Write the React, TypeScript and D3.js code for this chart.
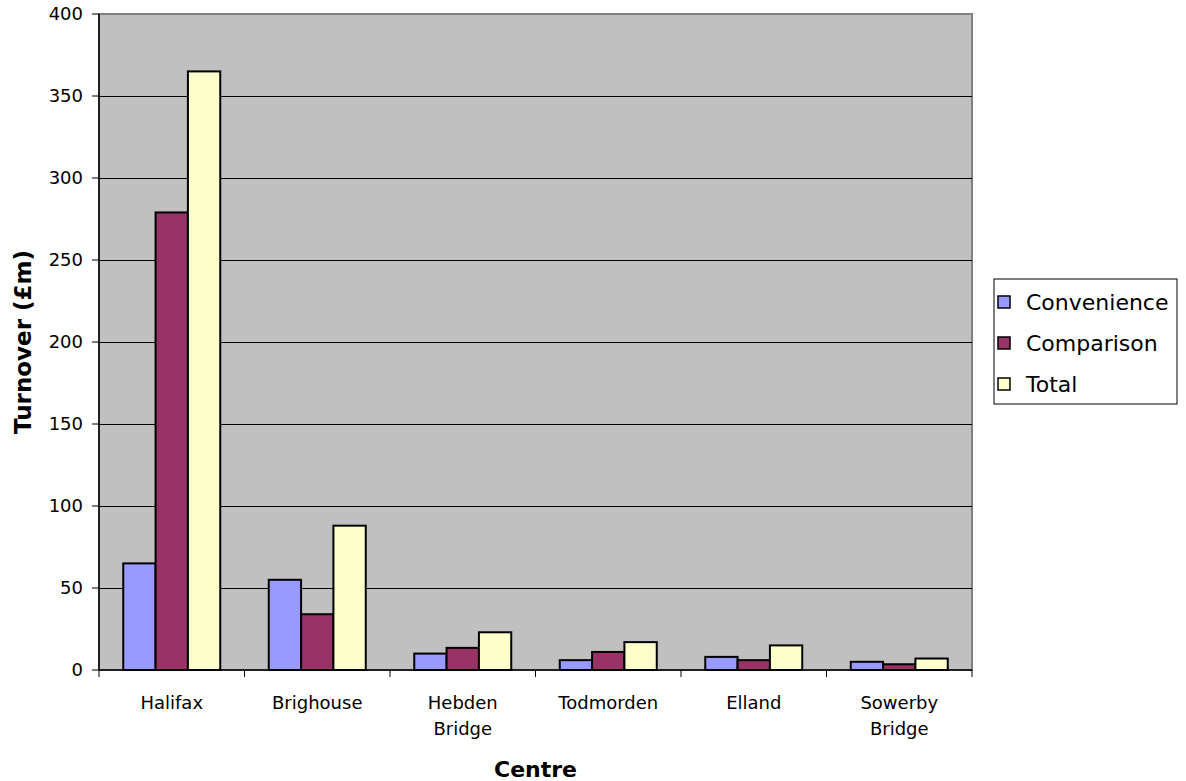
import React from "react";
import * as d3 from "d3";

const categories: string[][] = [
  ["Halifax"],
  ["Brighouse"],
  ["Hebden", "Bridge"],
  ["Todmorden"],
  ["Elland"],
  ["Sowerby", "Bridge"],
];
const seriesNames = ["Convenience", "Comparison", "Total"];
const convenience = [65, 55, 10, 6, 8, 5];
const comparison = [279, 34, 13.5, 11, 6, 3.5];
const total = [365, 88, 23, 17, 15, 7];
const yTicks = [0, 50, 100, 150, 200, 250, 300, 350, 400];
const colors = ["#9999FF", "#993366", "#FFFFCC"];

const W = 1186;
const H = 781;
const plot = { left: 99, right: 972, top: 14, bottom: 670 };
const FONT = "'DejaVu Sans', Verdana, Tahoma, sans-serif";

export default function App() {
  const series = [convenience, comparison, total];
  const catKeys = categories.map((c) => c.join(" "));
  const x0 = d3.scaleBand<string>().domain(catKeys).range([plot.left, plot.right]).padding(0);
  const x1 = d3
    .scaleBand<string>()
    .domain(seriesNames)
    .range([0, x0.bandwidth()])
    .paddingInner(0)
    .paddingOuter(0.75);
  const y = d3.scaleLinear().domain([0, 400]).range([plot.bottom, plot.top]);

  const legendRows = [302, 343, 384];

  return (
    <svg
      width={W}
      height={H}
      style={{ position: "absolute", left: 0, top: 0, background: "#fff" }}
      fontFamily={FONT}
    >
      {/* plot background */}
      <rect
        x={plot.left}
        y={plot.top}
        width={plot.right - plot.left}
        height={plot.bottom - plot.top}
        fill="#C0C0C0"
        stroke="#808080"
        strokeWidth={2}
      />
      {/* gridlines */}
      {yTicks.slice(1, -1).map((t) => (
        <line
          key={"g" + t}
          x1={plot.left}
          x2={plot.right}
          y1={Math.round(y(t)) + 0.5}
          y2={Math.round(y(t)) + 0.5}
          stroke="#000"
          strokeWidth={1}
          shapeRendering="crispEdges"
        />
      ))}
      {/* bars */}
      {catKeys.map((c, i) => (
        <g key={c} transform={`translate(${x0(c)},0)`}>
          {series.map((s, j) => (
            <rect
              key={j}
              x={x1(seriesNames[j])}
              y={y(s[i])}
              width={x1.bandwidth()}
              height={y(0) - y(s[i])}
              fill={colors[j]}
              stroke="#000"
              strokeWidth={2}
            />
          ))}
        </g>
      ))}
      {/* y axis */}
      <line x1={plot.left} x2={plot.left} y1={plot.top} y2={plot.bottom} stroke="#000" strokeWidth={1.5} />
      {yTicks.map((t) => (
        <g key={"yt" + t}>
          <line x1={plot.left - 7} x2={plot.left} y1={y(t)} y2={y(t)} stroke="#000" strokeWidth={1} />
          <text
            x={83}
            y={y(t)}
            dy="0.36em"
            textAnchor="end"
            fontSize={18}
            fill="#000"
          >
            {t}
          </text>
        </g>
      ))}
      {/* x axis */}
      <line x1={plot.left} x2={plot.right} y1={plot.bottom} y2={plot.bottom} stroke="#000" strokeWidth={1.5} />
      {[...catKeys.map((c) => x0(c) as number), plot.right].map((xv, i) => (
        <line key={"xt" + i} x1={xv} x2={xv} y1={plot.bottom} y2={plot.bottom + 7} stroke="#000" strokeWidth={1} />
      ))}
      {categories.map((lines, i) => (
        <text
          key={"xl" + i}
          x={(x0(catKeys[i]) as number) + x0.bandwidth() / 2}
          y={709}
          textAnchor="middle"
          fontSize={18}
          fill="#000"
        >
          {lines.map((l, k) => (
            <tspan key={k} x={(x0(catKeys[i]) as number) + x0.bandwidth() / 2} dy={k === 0 ? 0 : 26}>
              {l}
            </tspan>
          ))}
        </text>
      ))}
      {/* axis titles */}
      <text
        x={(plot.left + plot.right) / 2}
        y={777}
        textAnchor="middle"
        fontSize={22}
        fontWeight="bold"
        fill="#000"
      >
        Centre
      </text>
      <text
        transform={`translate(31,${(plot.top + plot.bottom) / 2}) rotate(-90)`}
        textAnchor="middle"
        fontSize={23}
        fontWeight="bold"
        fill="#000"
      >
        Turnover (£m)
      </text>
      {/* legend */}
      <rect x={994} y={279} width={183} height={125} fill="#fff" stroke="#000" strokeWidth={1} />
      {seriesNames.map((n, j) => (
        <g key={n}>
          <rect
            x={998}
            y={legendRows[j] - 6}
            width={12}
            height={12}
            fill={colors[j]}
            stroke="#000"
            strokeWidth={1.5}
          />
          <text x={1026} y={legendRows[j]} dy="0.36em" fontSize={22} fill="#000">
            {n}
          </text>
        </g>
      ))}
    </svg>
  );
}
